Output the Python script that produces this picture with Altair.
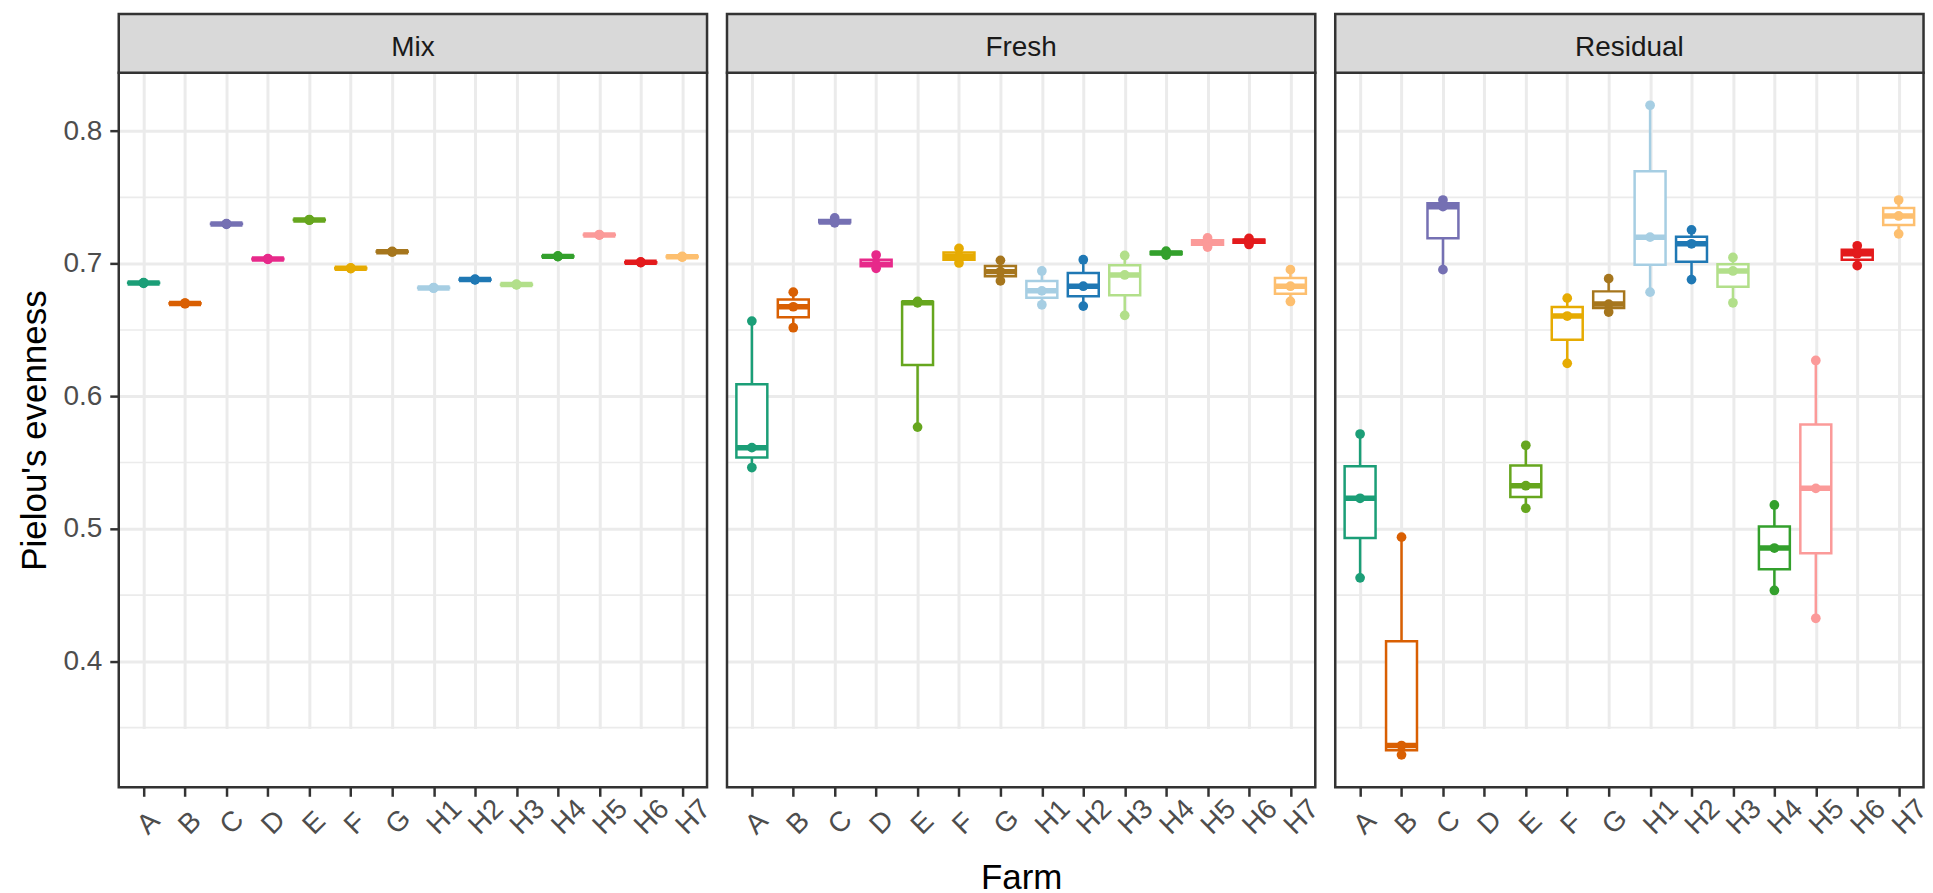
import altair as alt
import numpy as np
import pandas as pd

FONT = "Liberation Sans"

farms = ["A", "B", "C", "D", "E", "F", "G", "H1", "H2", "H3", "H4", "H5", "H6", "H7"]
farm_colors = ["#1B9E77", "#D95F02", "#7570B3", "#E7298A", "#66A61E", "#E6AB02", "#A6761D",
               "#A6CEE3", "#1F78B4", "#B2DF8A", "#33A02C", "#FB9A99", "#E31A1C", "#FDBF6F"]
panels = ["Mix", "Fresh", "Residual"]

# Pielou's evenness, three replicates per farm and sample type
mix_values = [
    [0.6852, 0.6855, 0.6857],
    [0.6698, 0.6700, 0.6703],
    [0.7297, 0.7300, 0.7302],
    [0.7033, 0.7035, 0.7038],
    [0.7328, 0.7330, 0.7333],
    [0.6963, 0.6965, 0.6968],
    [0.7088, 0.7090, 0.7093],
    [0.6815, 0.6817, 0.6820],
    [0.6878, 0.6880, 0.6883],
    [0.6840, 0.6842, 0.6845],
    [0.7053, 0.7055, 0.7058],
    [0.7215, 0.7217, 0.7220],
    [0.7008, 0.7010, 0.7013],
    [0.7050, 0.7052, 0.7055],
]
fresh_values = [
    [0.6567, 0.5612, 0.5462],
    [0.6785, 0.6675, 0.6517],
    [0.7345, 0.7315, 0.7308],
    [0.7065, 0.6995, 0.6965],
    [0.6715, 0.6705, 0.5767],
    [0.7115, 0.7055, 0.7005],
    [0.7025, 0.6940, 0.6870],
    [0.6945, 0.6795, 0.6690],
    [0.7030, 0.6830, 0.6680],
    [0.7062, 0.6915, 0.6610],
    [0.7095, 0.7080, 0.7065],
    [0.7195, 0.7160, 0.7125],
    [0.7190, 0.7170, 0.7145],
    [0.6955, 0.6830, 0.6715],
]
residual_values = [
    [0.5715, 0.5230, 0.4630],
    [0.4937, 0.3365, 0.3295],
    [0.7480, 0.7430, 0.6955],
    [],
    [0.5630, 0.5325, 0.5155],
    [0.6740, 0.6605, 0.6248],
    [0.6887, 0.6695, 0.6635],
    [0.8195, 0.7200, 0.6785],
    [0.7255, 0.7150, 0.6880],
    [0.7047, 0.6945, 0.6705],
    [0.5180, 0.4855, 0.4535],
    [0.6270, 0.5305, 0.4325],
    [0.7135, 0.7075, 0.6985],
    [0.7480, 0.7360, 0.7225],
]

major_breaks = [0.4, 0.5, 0.6, 0.7, 0.8]
minor_breaks = [0.35, 0.45, 0.55, 0.65, 0.75]
y_domain = [0.305, 0.844]

# long table of points
rows = []
for pname, vals in zip(panels, [mix_values, fresh_values, residual_values]):
    for farm, reps in zip(farms, vals):
        for v in reps:
            rows.append({"panel": pname, "farm": farm, "value": v})
points = pd.DataFrame(rows)

# box statistics (linear quantiles, whiskers to min/max)
stats = (
    points.groupby(["panel", "farm"])["value"]
    .agg(lo="min",
         q1=lambda s: float(np.percentile(s, 25)),
         med="median",
         q3=lambda s: float(np.percentile(s, 75)),
         hi="max")
    .reset_index()
)

W = 589.5      # panel width
H = 716        # plotting area height
SH = 59        # strip height
GRID = "#EBEBEB"
DARK = "#333333"

color_scale = alt.Scale(domain=farms, range=farm_colors)
x_scale = alt.Scale(type="point", domain=farms, padding=0.6)
# the strip sits in the top SH pixels, the data area below it
y_scale = alt.Scale(domain=y_domain, nice=False, zero=False, range=[SH + H, SH])


def make_panel(pname, first, middle):
    x_axis = alt.Axis(
        title="Farm" if middle else None,
        labelAngle=-45, labelAlign="left", labelBaseline="alphabetic",
        labelPadding=39, labelOffset=4, labelOverlap=False,
        labelFontSize=28, labelColor="#4D4D4D", labelFont=FONT,
        tickColor=DARK, tickWidth=2.5, tickSize=9,
        domain=False, grid=True, gridColor=GRID, gridWidth=3,
        titleFontSize=35, titleFont=FONT, titleFontWeight="normal",
        titleColor="#000000", titleY=101.5, titleBaseline="alphabetic",
    )
    if first:
        y_axis = alt.Axis(
            values=major_breaks, format=".1f", title="Pielou's evenness",
            titleX=-73.5, titleY=SH + H / 2, titleBaseline="alphabetic",
            titleFontSize=35, titleFont=FONT, titleFontWeight="normal", titleColor="#000000",
            labelFontSize=28, labelColor="#4D4D4D", labelFont=FONT, labelPadding=8,
            tickColor=DARK, tickWidth=2.5, tickSize=9,
            domain=False, grid=True, gridColor=GRID, gridWidth=3,
        )
    else:
        y_axis = alt.Axis(values=major_breaks, labels=False, ticks=False, title=None,
                          domain=False, grid=True, gridColor=GRID, gridWidth=3)

    x_enc = alt.X("farm:N", scale=x_scale, axis=x_axis)
    col = alt.Color("farm:N", scale=color_scale, legend=None)

    minor = alt.Chart(pd.DataFrame({"v": minor_breaks})).mark_rule(
        color=GRID, strokeWidth=1.6
    ).encode(y=alt.Y("v:Q", scale=y_scale, axis=y_axis))

    st = alt.Chart(stats[stats.panel == pname])
    whisk = st.mark_rule(strokeWidth=2.5).encode(
        x=x_enc, y=alt.Y("lo:Q", scale=y_scale), y2="hi:Q", color=col)
    box = st.mark_bar(size=31, fill="white", strokeWidth=2.5).encode(
        x=x_enc, y=alt.Y("q1:Q", scale=y_scale), y2="q3:Q",
        stroke=alt.Stroke("farm:N", scale=color_scale, legend=None))
    med = st.mark_tick(size=32, thickness=5.5, opacity=1).encode(
        x=x_enc, y=alt.Y("med:Q", scale=y_scale), color=col)

    pts = alt.Chart(points[points.panel == pname]).mark_circle(size=95, opacity=1).encode(
        x=x_enc, y=alt.Y("value:Q", scale=y_scale), color=col)

    frame = alt.Chart(pd.DataFrame({"panel": [pname]}))
    border = frame.mark_rect(filled=False, stroke=DARK, strokeWidth=2.5).encode(
        x=alt.value(0), x2=alt.value(W), y=alt.value(SH), y2=alt.value(SH + H))
    strip = frame.mark_rect(fill="#D9D9D9", stroke=DARK, strokeWidth=2.5).encode(
        x=alt.value(0), x2=alt.value(W), y=alt.value(0), y2=alt.value(SH))
    label = frame.mark_text(fontSize=28, font=FONT, color="#1A1A1A",
                            baseline="alphabetic", align="center").encode(
        text="panel:N", x=alt.value(W / 2), y=alt.value(42.3))

    return alt.layer(minor, whisk, box, med, pts, border, strip, label).properties(
        width=W, height=SH + H)


chart = alt.hconcat(
    *[make_panel(p, i == 0, i == 1) for i, p in enumerate(panels)],
    spacing=19.5, bounds="flush",
).properties(
    padding={"left": 17, "top": 11, "right": 0, "bottom": 0},
    background="white",
).configure_view(stroke=None).configure(font=FONT)

chart.save("out.html", embed_options={"renderer": "svg", "actions": False})
